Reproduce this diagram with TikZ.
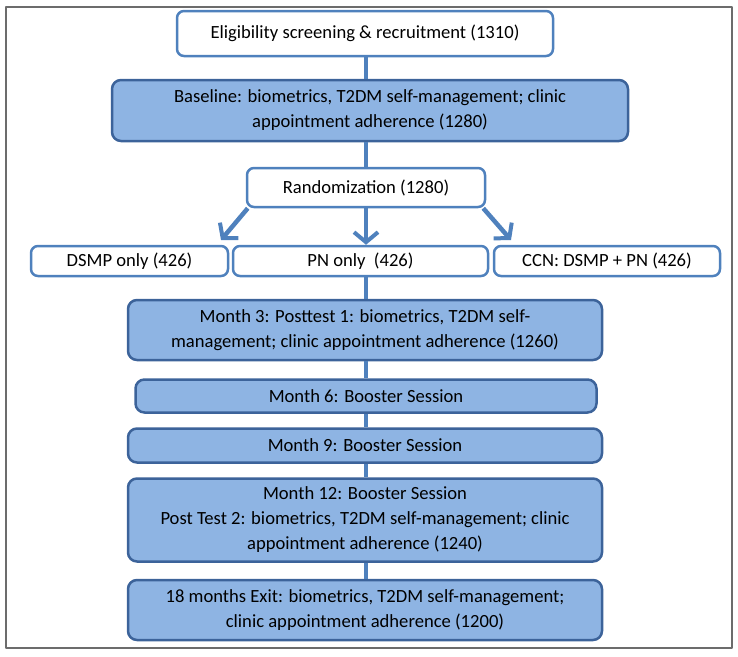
\documentclass[tikz,border=0pt]{standalone}
\usepackage{fontspec}
\setmainfont{Carlito}
\usetikzlibrary{arrows.meta}
\definecolor{lineblue}{HTML}{4F81BD}
\definecolor{edgeblue}{HTML}{3C639A}
\definecolor{fillblue}{HTML}{8EB4E3}
\begin{document}
\begin{tikzpicture}[x=1pt,y=-1pt,line join=round,line cap=round,
	font=\fontsize{18.6}{25}\selectfont,
	>={Straight Barb[length=10pt,width=24pt,line width=4pt]},
	wbox/.style={draw=lineblue,line width=2.5pt,fill=white,
		rounded corners=7pt,align=center,inner sep=0pt},
	bbox/.style={draw=edgeblue,line width=2.5pt,fill=fillblue,
		rounded corners=9pt,align=center,inner sep=0pt},
	link/.style={draw=lineblue,line width=4.5pt,line cap=butt}]
	\useasboundingbox (0,0) rectangle (738,656);
	\draw[gray!85!black,line width=2pt] (6,7) rectangle (732,648);
	% boxes
	\node[wbox,minimum width=376pt,minimum height=45pt] (elig) at (365,33.5)
		{Eligibility screening \& recruitment (1310)};
	\node[bbox,minimum width=516pt,minimum height=61pt] (base) at (370,110.5)
		{Baseline: biometrics, T2DM self-management; clinic\\appointment adherence (1280)};
	\node[wbox,minimum width=238pt,minimum height=39pt] (rand) at (366,187.5)
		{Randomization (1280)};
	\node[wbox,minimum width=197pt,minimum height=30pt] (dsmp) at (129.5,261)
		{DSMP only (426)};
	\node[wbox,minimum width=255pt,minimum height=30pt] (pn) at (360.5,261)
		{PN only\ \ (426)};
	\node[wbox,minimum width=226pt,minimum height=30pt] (ccn) at (607,261)
		{CCN: DSMP + PN (426)};
	\node[bbox,minimum width=474pt,minimum height=60pt] (mthree) at (365,330)
		{Month 3: Posttest 1: biometrics, T2DM self-\\management; clinic appointment adherence (1260)};
	\node[bbox,minimum width=461pt,minimum height=33pt] (msix) at (366,396)
		{Month 6: Booster Session};
	\node[bbox,minimum width=474pt,minimum height=34pt] (mnine) at (365,445.5)
		{Month 9: Booster Session};
	\node[bbox,minimum width=474pt,minimum height=83pt] (mtwelve) at (365,520)
		{Month 12: Booster Session\\Post Test 2: biometrics, T2DM self-management; clinic\\appointment adherence (1240)};
	\node[bbox,minimum width=474pt,minimum height=60pt] (exit) at (365,610)
		{18 months Exit: biometrics, T2DM self-management;\\clinic appointment adherence (1200)};
	% connectors
	\path (elig.south) ++(1,0) coordinate (c);
	\draw[link] (c) -- (c |- base.north);
	\draw[link] (c |- base.south) -- (c |- rand.north);
	\draw[link] (c |- pn.south) -- (c |- mthree.north);
	\draw[link] (c |- mthree.south) -- (c |- msix.north);
	\draw[link] (c |- msix.south) -- (c |- mnine.north);
	\draw[link] (c |- mnine.south) -- (c |- mtwelve.north);
	\draw[link] (c |- mtwelve.south) -- (c |- exit.north);
	% arrows
	\path (rand.south west) ++(2,0) coordinate (la)
		(rand.south east) ++(-3,0) coordinate (ra)
		(221,240) coordinate (lt)
		(511,240) coordinate (rt);
	\draw[link,->] (la) -- (lt);
	\draw[link,->] (c |- rand.south) -- (c |- pn.north);
	\draw[link,->] (ra) -- (rt);
\end{tikzpicture}
\end{document}
